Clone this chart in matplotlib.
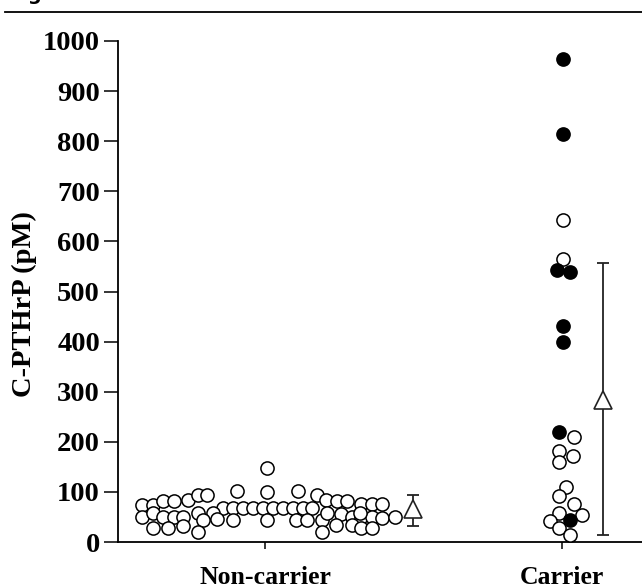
import matplotlib
matplotlib.use('Agg')
import matplotlib.pyplot as plt
from matplotlib.lines import Line2D

# ---------------- data ----------------
categories = ['Non-carrier', 'Carrier']
y_ticks = [0, 100, 200, 300, 400, 500, 600, 700, 800, 900, 1000]

# Non-carrier group: values (pM) and horizontal scatter offsets (category units)
nc_values = [147, 102, 100, 102,
             74, 74, 82, 82, 84, 94, 94, 94, 84, 82, 82, 76, 76, 76,
             68, 68, 68, 68, 68, 68, 68, 68, 68, 68,
             50, 58, 50, 50, 50, 58, 58, 46, 44, 44, 44, 44, 44, 44,
             58, 56, 50, 50, 50, 48, 50, 34, 34,
             27, 27, 32, 20, 20, 27, 27, 58]
nc_offsets = [0.006, -0.095, 0.006, 0.110,
              -0.413, -0.376, -0.342, -0.306, -0.260, -0.225, -0.194, 0.176, 0.205, 0.241, 0.275, 0.322, 0.359, 0.394,
              -0.142, -0.107, -0.075, -0.039, -0.006, 0.026, 0.060, 0.095, 0.127, 0.157,
              -0.413, -0.376, -0.342, -0.306, -0.275, -0.225, -0.176, -0.161, -0.208, -0.107, 0.006, 0.104, 0.140, 0.191,
              0.208, 0.255, 0.292, 0.322, 0.359, 0.394, 0.438, 0.294, 0.239,
              -0.376, -0.326, -0.277, -0.225, 0.191, 0.322, 0.359, 0.320]

# Carrier group: open circles and filled circles
c_open_values = [643, 564, 210, 182, 172, 159, 110, 92, 76, 58, 53, 41, 27, 14]
c_open_offsets = [0.002, 0.002, 0.040, -0.009, 0.038, -0.009, 0.012, -0.010, 0.040, -0.010, 0.068, -0.040, -0.010, 0.027]
c_filled_values = [965, 814, 543, 538, 431, 399, 220, 44]
c_filled_offsets = [0.002, 0.002, -0.016, 0.025, 0.002, 0.002, -0.009, 0.027]

# Summary (mean with error bar) per group
summary_mean = [65, 283]
summary_low = [32, 14]
summary_high = [93, 557]
summary_offsets = [0.498, 0.138]

# ---------------- figure ----------------
W, H, DPI = 642, 588, 100
fig = plt.figure(figsize=(W / DPI, H / DPI), dpi=DPI)
ax = fig.add_axes([118 / W, 1 - 542 / H, (W - 118) / W, (542 - 41) / H])

serif = ['Liberation Serif', 'DejaVu Serif']
circ = dict(marker='o', s=90, linewidths=1.1, edgecolors='black', zorder=3)

ax.scatter([0 + o for o in nc_offsets], nc_values, facecolors='white', **circ)
ax.scatter([1 + o for o in c_open_offsets], c_open_values, facecolors='white', **circ)
ax.scatter([1 + o for o in c_filled_offsets], c_filled_values, facecolors='black', zorder=4,
           marker='o', s=90, linewidths=1.1, edgecolors='black')

for i in range(len(categories)):
    x = i + summary_offsets[i]
    ax.errorbar([x], [summary_mean[i]],
                yerr=[[summary_mean[i] - summary_low[i]], [summary_high[i] - summary_mean[i]]],
                fmt='none', ecolor='#222222', elinewidth=1.3, capsize=4, capthick=1.3, zorder=2)
    ax.plot([x], [summary_mean[i]], marker='^', markersize=12.5, markerfacecolor='white',
            markeredgecolor='#222222', markeredgewidth=1.2, linestyle='none', zorder=5)

ax.set_xlim(-0.495, 1.269)
ax.set_ylim(0, 1000)
ax.set_yticks(y_ticks)
ax.set_yticklabels([str(t) for t in y_ticks], fontfamily=serif, fontweight='bold', fontsize=20.5)
ax.set_xticks(range(len(categories)))
ax.set_xticklabels(categories, fontfamily=serif, fontweight='bold', fontsize=18.5)
ax.tick_params(axis='y', direction='out', length=10, width=1.1, pad=3)
ax.tick_params(axis='x', direction='out', length=5, width=1.1, pad=12.5)
for s in ['top', 'right']:
    ax.spines[s].set_visible(False)
for s in ['left', 'bottom']:
    ax.spines[s].set_linewidth(1.3)
ax.set_ylabel('C-PTHrP (pM)', fontfamily=serif, fontweight='bold', fontsize=20.5)
ax.yaxis.set_label_coords(-0.155, 0.475)
ax.patch.set_alpha(0)

# header rule and cut-off figure caption at top
fig.add_artist(Line2D([5 / W, 1], [1 - 12 / H, 1 - 12 / H], color='black', linewidth=1.3,
                      transform=fig.transFigure))
fig.text(8 / W, 1 - 0.5 / H, 'Figure', fontsize=14, fontweight='bold', fontfamily='DejaVu Sans',
         va='baseline', ha='left')

fig.savefig('out.png', dpi=DPI)
